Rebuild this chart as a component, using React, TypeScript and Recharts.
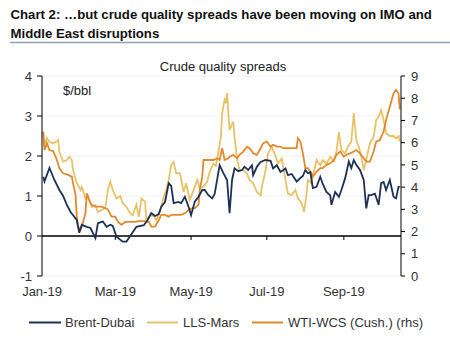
import React from "react";
import { LineChart, Line, XAxis, YAxis, CartesianGrid, ReferenceLine } from "recharts";

// Day index counted from 1 Jan 2019
const monthTicks = [0, 59, 120, 181, 243];
const monthLabels = ["Jan-19", "Mar-19", "May-19", "Jul-19", "Sep-19"];
const leftTicks = [-1, 0, 1, 2, 3, 4];
const rightTicks = [0, 1, 2, 3, 4, 5, 6, 7, 8, 9];

const seriesNames = ["Brent-Dubai", "LLS-Mars", "WTI-WCS (Cush.) (rhs)"];

const brentDays = [1,2,6,10,14,17,20,23,25,28,30,32,36,39,43,45,49,52,55,57,60,65,68,71,76,82,85,88,91,94,96,99,102,104,106,110,112,115,118,120,123,126,129,131,134,137,139,143,146,149,151,153,155,158,161,163,166,169,170,173,176,180,184,186,189,192,196,198,201,205,208,210,212,214,216,218,221,224,226,229,232,233,236,239,241,244,247,249,251,253,256,259,261,263,265,268,271,273,275,277,280,283,285,287,288];
const brentVals = [1.48,1.36,1.7,1.4,1.15,1.0,0.78,0.6,0.52,0.4,0.08,0.28,0.23,0.2,-0.05,0.32,0.36,0.23,0.28,0.25,-0.02,-0.14,-0.14,0.0,0.23,0.27,0.4,0.57,0.5,0.55,0.73,0.85,1.32,1.25,0.82,0.85,0.82,0.98,0.73,0.52,0.86,0.98,1.15,1.15,1.02,0.94,1.05,1.77,1.57,1.4,0.57,1.4,1.69,1.62,1.65,1.73,1.65,1.77,1.52,1.73,1.85,1.9,1.88,1.69,1.77,1.6,1.69,1.52,1.55,1.36,1.45,1.5,1.65,1.57,1.6,1.2,1.23,1.48,1.3,1.1,1.02,0.78,1.1,0.98,1.15,1.44,1.86,1.7,1.9,1.78,1.65,1.4,0.69,1.02,1.02,1.06,0.78,1.32,1.35,1.15,1.4,0.98,0.94,1.23,1.23];

const llsDays = [1,2,4,6,9,12,13,14,17,20,22,24,25,28,31,32,35,37,40,43,45,48,51,53,55,57,60,63,65,68,71,73,76,78,80,83,84,87,90,92,95,98,100,102,104,106,108,111,114,116,119,122,125,127,130,133,135,138,140,142,144,145,147,148,149,150,151,154,155,157,159,162,165,167,170,173,176,177,180,182,185,188,190,193,196,198,201,204,206,209,211,213,214,217,218,221,224,226,229,232,235,237,239,241,244,247,249,251,253,255,257,259,261,264,267,269,271,273,275,277,280,283,285,287,288];
const llsVals = [2.6,2.23,2.45,2.35,2.32,2.37,2.4,2.1,1.86,1.9,1.98,1.9,1.65,1.32,1.15,1.23,0.94,1.0,0.73,0.77,0.6,0.65,0.7,1.15,1.36,1.15,0.94,1.0,0.82,0.73,0.57,0.52,0.78,0.48,0.94,0.86,0.4,0.52,0.5,0.4,0.6,0.98,1.15,1.4,1.77,1.85,1.57,1.57,1.1,1.32,0.9,1.15,1.4,1.2,1.23,1.36,1.6,1.81,1.75,2.1,2.48,3.07,3.4,3.32,3.57,3.07,2.65,2.86,2.48,1.94,1.65,1.65,1.57,1.4,1.32,1.1,1.02,1.23,1.65,2.07,2.23,2.0,1.81,1.94,1.4,1.06,1.02,1.15,0.94,0.82,0.6,1.06,1.4,1.32,1.48,1.9,1.77,1.9,1.81,1.98,1.86,2.1,2.6,2.15,2.07,2.27,2.36,3.07,2.4,2.23,1.98,1.65,1.9,2.32,2.48,2.9,2.98,3.15,2.9,2.57,2.5,2.5,2.44,2.5,2.36];

const wtiDays = [1,2,4,6,9,12,14,17,21,24,25,27,28,29,31,32,35,36,38,40,43,45,48,51,53,56,59,61,64,67,69,72,75,78,82,86,88,91,94,96,99,102,104,108,112,115,118,121,123,126,127,129,130,133,135,138,141,143,145,146,147,150,151,154,157,159,162,165,167,170,173,176,178,181,184,186,189,192,194,197,200,202,205,206,208,210,212,214,217,218,221,224,226,229,232,235,237,240,243,245,248,251,253,256,259,261,264,267,269,272,275,277,280,283,285,287,288];
const wtiVals = [6.5,5.67,5.97,5.67,5.62,5.22,4.85,4.62,4.55,4.47,4.17,3.65,2.67,2.22,2.07,2.22,2.82,3.72,3.4,3.2,3.12,3.12,3.12,3.05,3.0,2.67,2.67,2.44,2.3,2.44,2.44,2.44,2.44,2.47,2.47,2.44,2.22,2.22,2.52,2.75,2.75,2.67,2.75,2.75,2.75,2.82,2.97,3.05,3.05,3.2,3.87,4.47,5.22,5.22,5.22,5.22,5.3,5.22,5.75,5.5,5.22,5.3,5.37,5.45,5.3,5.45,5.6,5.82,5.75,5.52,5.45,5.75,5.97,6.05,5.82,5.9,5.82,5.82,5.75,5.75,5.75,5.75,5.75,6.2,6.05,5.52,4.85,4.85,4.62,4.47,4.7,4.85,4.85,5.0,5.07,5.22,5.45,5.6,5.37,5.45,5.52,5.6,5.67,5.52,5.3,5.15,5.15,5.6,6.05,6.12,6.5,7.02,7.62,8.22,8.37,8.22,7.5];

const toRows = (days: number[], vals: number[]) => days.map((d, i) => ({ d, v: vals[i] }));
const brentData = toRows(brentDays, brentVals);
const llsData = toRows(llsDays, llsVals);
const wtiData = toRows(wtiDays, wtiVals);

const NAVY = "#1d3157";
const GOLD = "#e8c267";
const ORANGE = "#e3892b";
const FONT = "'Liberation Sans', Arial, sans-serif";

export default function App() {
  const tickStyle = { fill: "#333", fontSize: 13 };
  return (
    <div style={{ position: "absolute", left: 0, top: 0, width: 450, height: 345, background: "#fff", fontFamily: FONT }}>
      <LineChart width={450} height={345} margin={{ top: 76, right: 19, bottom: 39, left: 12 }}>
        <CartesianGrid yAxisId="left" vertical={false} stroke="#f0f0f0" />
        <XAxis
          type="number"
          dataKey="d"
          domain={[0, 289]}
          ticks={monthTicks}
          tickFormatter={(v: number) => monthLabels[monthTicks.indexOf(v)] ?? ""}
          axisLine={false}
          tickLine={false}
          tickSize={0}
          tickMargin={11}
          height={30}
          tick={tickStyle}
          allowDataOverflow
        />
        <YAxis
          yAxisId="left"
          domain={[-1, 4]}
          ticks={leftTicks}
          width={30}
          axisLine={{ stroke: "#000" }}
          tickLine={{ stroke: "#000" }}
          tickSize={5}
          tickMargin={5}
          tick={tickStyle}
        />
        <YAxis
          yAxisId="right"
          orientation="right"
          domain={[0, 9]}
          ticks={rightTicks}
          width={30}
          axisLine={{ stroke: "#000" }}
          tickLine={{ stroke: "#000" }}
          tickSize={4}
          tickMargin={6}
          tick={tickStyle}
        />
        <ReferenceLine yAxisId="left" y={0} stroke="#000" strokeWidth={1.3} />
        {monthTicks.slice(1).map((d) => (
          <ReferenceLine
            key={d}
            yAxisId="left"
            segment={[{ x: d, y: 0 }, { x: d, y: -0.1 }]}
            stroke="#000"
            strokeWidth={1}
          />
        ))}
        <Line yAxisId="left" data={llsData} dataKey="v" name={seriesNames[1]} stroke={GOLD} strokeWidth={1.8} dot={false} isAnimationActive={false} />
        <Line yAxisId="right" data={wtiData} dataKey="v" name={seriesNames[2]} stroke={ORANGE} strokeWidth={1.8} dot={false} isAnimationActive={false} />
        <Line yAxisId="left" data={brentData} dataKey="v" name={seriesNames[0]} stroke={NAVY} strokeWidth={1.8} dot={false} isAnimationActive={false} />
      </LineChart>
      <svg width={450} height={345} style={{ position: "absolute", left: 0, top: 0, pointerEvents: "none" }} fontFamily={FONT}>
        <text x={10.5} y={19} fontSize={13.2} fontWeight="bold" fill="#111">Chart 2: …but crude quality spreads have been moving on IMO and</text>
        <text x={10.5} y={37.5} fontSize={13.2} fontWeight="bold" fill="#111">Middle East disruptions</text>
        <line x1={10} x2={450} y1={42.5} y2={42.5} stroke="#8ea1ba" strokeWidth={1.5} />
        <text x={223} y={71} fontSize={13} textAnchor="middle" fill="#222">Crude quality spreads</text>
        <text x={63} y={95} fontSize={13} fill="#222">$/bbl</text>
        <line x1={29} x2={61} y1={322.5} y2={322.5} stroke={NAVY} strokeWidth={2} />
        <text x={65} y={327} fontSize={13} fill="#333">{seriesNames[0]}</text>
        <line x1={147} x2={178} y1={322.5} y2={322.5} stroke={GOLD} strokeWidth={2} />
        <text x={183} y={327} fontSize={13} fill="#333">{seriesNames[1]}</text>
        <line x1={252} x2={283} y1={322.5} y2={322.5} stroke={ORANGE} strokeWidth={2} />
        <text x={288} y={327} fontSize={13} fill="#333">{seriesNames[2]}</text>
      </svg>
    </div>
  );
}
